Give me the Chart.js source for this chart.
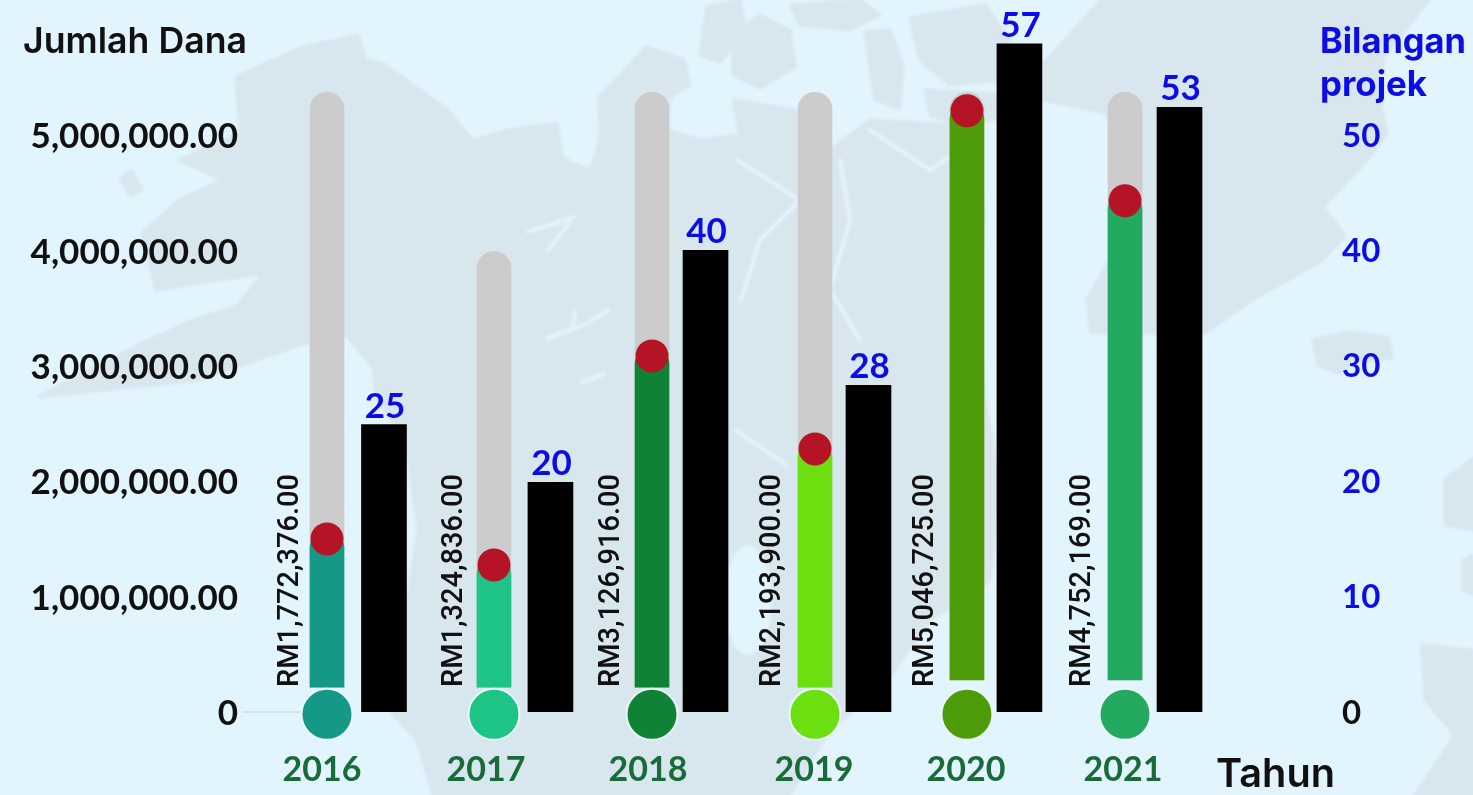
<!DOCTYPE html>
<html>
<head>
<meta charset="utf-8">
<style>
html,body{margin:0;padding:0;width:1473px;height:795px;overflow:hidden;background:#e2f4fd}
#map,#c{position:absolute;left:0;top:0}
</style>
<script src="https://cdn.jsdelivr.net/npm/chart.js@4"></script>
</head>
<body>
<svg id="map" width="1473" height="795" viewBox="0 0 1473 795">
<defs><filter id="soft"><feGaussianBlur stdDeviation="1.5"/></filter></defs>
<g fill="#d8e6ee" filter="url(#soft)" stroke="#d8e6ee" stroke-width="3" stroke-linejoin="round">
<path d="M236,77 L300,48 L358,35 L366,60 L382,63 L420,90 L448,110 L472,140 L510,130 L557,123 L562,155 L571,163 L590,170 L600,140 L599,97 L625,70 L646,47 L684,60 L690,85 L670,97 L668,130 L700,140 L740,135 L733,100 L795,110 L830,150 L870,120 L960,125 L985,210 L975,300 L985,400 L1000,480 L990,580 L930,620 L880,690 L830,730 L790,795 L433,795 L417,740 L391,713 L418,530 L406,440 L377,400 L373,367 L344,333 L300,345 L198,380 L38,397 L142,343 L198,318 L236,307 L264,273 L156,290 L142,233 L179,200 L222,180 L179,160 L240,133 Z"/>
<path d="M1101,0 L1429,0 L1384,57 L1380,100 L1387,133 L1370,157 L1323,207 L1345,235 L1323,260 L1252,300 L1205,333 L1091,333 L1087,300 L1143,200 L1106,113 L1044,100 L1044,63 Z"/>
<path d="M1313,340 L1350,332 L1389,338 L1392,358 L1355,362 L1340,374 L1318,365 Z"/>
<path d="M707,7 L740,0 L745,30 L720,62 L700,55 Z"/>
<path d="M733,35 L760,15 L790,30 L795,67 L760,88 L733,75 Z"/>
<path d="M790,5 L860,0 L880,15 L850,30 L800,25 Z"/>
<path d="M865,32 L890,30 L903,65 L900,108 L875,100 Z"/>
<path d="M910,18 L985,5 L1010,40 L1000,80 L950,85 L920,60 Z"/>
<path d="M925,90 L1010,95 L1020,115 L960,125 L930,115 Z"/>
<path d="M1422,645 L1473,650 L1473,795 L1415,795 L1455,735 L1425,700 Z"/>
<path d="M1445,480 L1473,458 L1473,530 L1445,525 Z"/>
<path d="M1463,560 L1473,555 L1473,595 L1463,590 Z"/>
<path d="M120,178 L132,170 L142,190 L130,195 Z"/>
</g>
<g fill="none" stroke="#e2f4fd" stroke-width="4" stroke-linecap="round" filter="url(#soft)">
<path d="M528,232 L575,217 M548,250 L570,222"/>
<path d="M547,338 L585,325 L608,310 M572,330 L575,312"/>
<path d="M582,382 L604,374"/>
<path d="M737,160 L800,200 L760,240 L741,300"/>
<path d="M840,160 L850,220 L830,290 L860,340"/>
<path d="M870,130 L930,170 L960,150"/>
<path d="M735,430 L787,465"/>
<path d="M1000,330 L1040,340"/>
</g>
<g fill="#e2f4fd" filter="url(#soft)">
<ellipse cx="748" cy="600" rx="24" ry="55"/>
</g>
</svg>
<canvas id="c" width="1473" height="795"></canvas>
<script>
const years = ['2016','2017','2018','2019','2020','2021'];
const fundLabels = ['RM1,772,376.00','RM1,324,836.00','RM3,126,916.00','RM2,193,900.00','RM5,046,725.00','RM4,752,169.00'];
const projectLabels = ['25','20','40','28','57','53'];
const projectBars = [24.9,19.9,40,28.3,57.9,52.4];
const tubeTops = [5370000,3990000,5370000,5370000,5370000,5370000];
const fundFillTops = [1570000,1340000,3160000,2350000,5280000,4500000];
const fundFillBases = [215000,215000,215000,215000,277000,277000];
const markerLevels = [1500000,1274000,3085000,2280000,5210000,4430000];
const bulbLevels = [-20000,-20000,-20000,-20000,-20000,-20000];
const fundColors = ['#159885','#1dc486','#108235','#6bdf10','#4f9c0b','#24a961'];
const leftTicks = [0,1000000,2000000,3000000,4000000,5000000];
const rightTicks = [0,10,20,30,40,50];

/* layout constants: horizontal placement per axis */
const SHIFTS = {
  x:  [-27.6,-19.8,-20.9,-17.1,-24.3,-25.4],
  x2: [29.4,36.7,32.6,36.4,28.2,29.1]
};
const YEAR_LABEL_SHIFT = [-5,-8,-4,-1,-1,-2];
const VALUE_TEXT_SHIFT = [-29,-32,-33,-35,-34,-35];

class ShiftedCategory extends Chart.CategoryScale {
  getPixelForValue(v){
    const base = super.getPixelForValue(v);
    const s = SHIFTS[this.id];
    return s ? base + (s[Math.round(v)] || 0) : base;
  }
  getPixelForTick(i){
    return super.getPixelForTick(i) + (this.id === 'x' ? YEAR_LABEL_SHIFT[i] : 0);
  }
}
ShiftedCategory.id = 'shiftedCategory';
ShiftedCategory.defaults = Chart.CategoryScale.defaults;
Chart.register(ShiftedCategory);

const FONT = 'Lato, "Open Sans", sans-serif';
const WIDE = 'Inter, "Open Sans", sans-serif';
const BLUE = '#0c0ce6';

const annotate = {
  id:'annotate',
  beforeDatasetsDraw(chart){
    const c = chart.ctx, ys = chart.scales.y, m = chart.getDatasetMeta(0);
    c.save();
    c.strokeStyle = '#d5e4ea'; c.lineWidth = 2;
    c.beginPath(); c.moveTo(242, ys.getPixelForValue(0)); c.lineTo(m.data[0].x, ys.getPixelForValue(0)); c.stroke();
    c.restore();
  },
  afterDatasetsDraw(chart){
    const c = chart.ctx;
    const tube = chart.getDatasetMeta(0), bars = chart.getDatasetMeta(2);
    c.save();
    /* rotated fund amounts */
    c.fillStyle = '#111'; c.font = '500 29px Roboto, '+FONT; c.textAlign = 'left'; c.textBaseline = 'alphabetic';
    fundLabels.forEach((t,i)=>{
      c.save();
      c.translate(tube.data[i].x + VALUE_TEXT_SHIFT[i], 687);
      c.rotate(-Math.PI/2);
      c.fillText(t,0,0,213);
      c.restore();
    });
    /* project counts over the black bars */
    c.fillStyle = BLUE; c.font = 'bold 35px '+FONT; c.textAlign = 'center';
    projectLabels.forEach((t,i)=>{ c.fillText(t, bars.data[i].x+1, bars.data[i].y-7); });
    /* titles */
    c.textAlign = 'left'; c.fillStyle = '#111';
    c.font = '600 36px '+WIDE; c.fillText('Jumlah Dana', 23, 53, 224);
    c.font = '600 40px '+WIDE; c.fillText('Tahun', 1216, 787, 119);
    c.fillStyle = BLUE; c.font = 'bold 35px '+WIDE;
    c.fillText('Bilangan', 1320, 53, 146);
    c.fillText('projek', 1320, 96, 107);
    c.restore();
  }
};

new Chart(document.getElementById('c'), {
  data:{
    labels: years,
    datasets:[
      {type:'bar',label:'Tube',data:tubeTops.map((t,i)=>[fundFillBases[i],t]),xAxisID:'x',yAxisID:'y',grouped:false,barThickness:34,
        backgroundColor:'#cccccc',borderRadius:{topLeft:17,topRight:17},borderSkipped:'start',order:5},
      {type:'bar',label:'Jumlah Dana',data:fundFillTops.map((t,i)=>[fundFillBases[i],t]),xAxisID:'x',yAxisID:'y',grouped:false,barThickness:34,
        backgroundColor:fundColors,borderRadius:{topLeft:17,topRight:17},borderSkipped:'start',order:4},
      {type:'bar',label:'Bilangan projek',data:projectBars,xAxisID:'x2',yAxisID:'y2',grouped:false,barThickness:45,
        backgroundColor:'#000',order:3},
      {type:'line',label:'Bulb',data:bulbLevels,xAxisID:'x',yAxisID:'y',showLine:false,clip:false,pointRadius:25.5,pointHoverRadius:25.5,
        pointBackgroundColor:fundColors,pointBorderColor:'#e9f7fb',pointBorderWidth:2,order:2},
      {type:'line',label:'Marker',data:markerLevels,xAxisID:'x',yAxisID:'y',showLine:false,clip:false,pointRadius:16.5,pointHoverRadius:16.5,
        pointBackgroundColor:'#b51426',pointBorderWidth:0,order:1}
    ]
  },
  options:{
    responsive:false,
    animation:false,
    layout:{padding:0,autoPadding:false},
    plugins:{legend:{display:false},tooltip:{enabled:false}},
    scales:{
      x:{type:'shiftedCategory',position:'bottom',grid:{display:false,drawTicks:false},border:{display:false},
        ticks:{color:'#1a6b3a',font:{family:FONT,size:34,weight:'bold'},padding:38,maxRotation:0,autoSkip:false},
        afterFit(s){s.height=83;s.paddingLeft=0;s.paddingRight=0;}},
      x2:{type:'shiftedCategory',display:false,position:'bottom'},
      y:{position:'left',min:0,max:6170000,grid:{display:false,drawTicks:false},border:{display:false},
        ticks:{padding:37,labelOffset:2,color:'#111',font:{family:FONT,size:35,weight:'bold'},
          callback:v=>v===0?'0':v.toLocaleString('en-US',{minimumFractionDigits:2,maximumFractionDigits:2})},
        afterBuildTicks(s){s.ticks=leftTicks.map(value=>({value}));},
        afterFit(s){s.width=275;s.paddingTop=0;s.paddingBottom=0;}},
      y2:{position:'right',min:0,max:61.7,grid:{display:false,drawTicks:false},border:{display:false},
        ticks:{padding:112,labelOffset:1,font:{family:FONT,size:33,weight:'bold'},
          color:c=>c.tick&&c.tick.value===0?'#111':BLUE},
        afterBuildTicks(s){s.ticks=rightTicks.map(value=>({value}));},
        afterFit(s){s.width=243;s.paddingTop=0;s.paddingBottom=0;}}
    }
  },
  plugins:[annotate]
});
</script>
</body>
</html>
